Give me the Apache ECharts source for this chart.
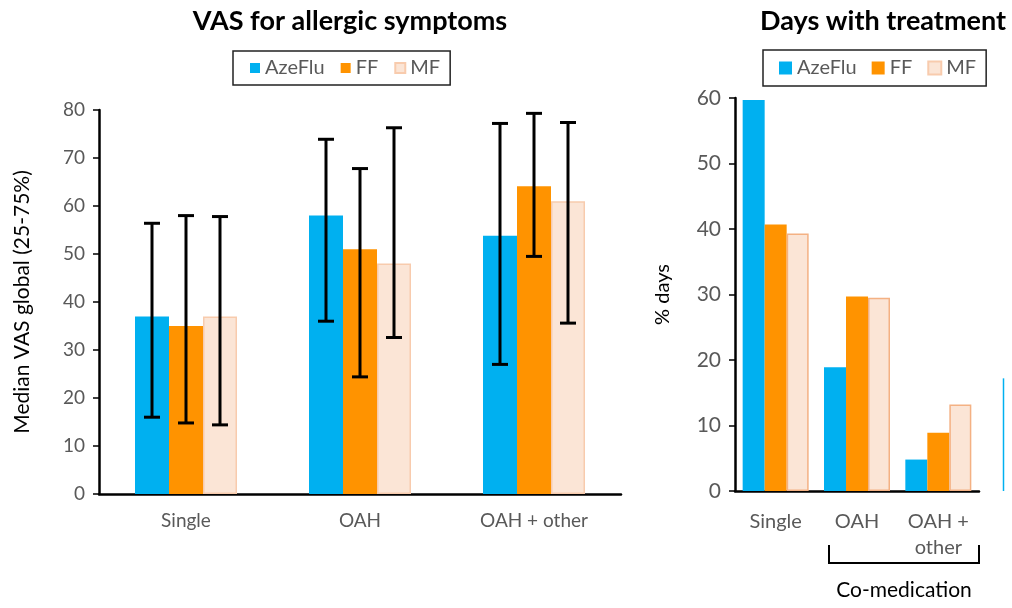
<!DOCTYPE html>
<html>
<head>
<meta charset="utf-8">
<script src="https://cdn.jsdelivr.net/npm/echarts@6/dist/echarts.min.js"></script>
<style>
html,body{margin:0;padding:0;background:#fff;}
#chart{width:1012px;height:608px;}
</style>
</head>
<body>
<div id="chart"></div>
<script>
// ---- Data ----
const seriesNames = ['AzeFlu', 'FF', 'MF'];

// Left chart: VAS for allergic symptoms (median with 25-75% range)
const vasCategories = ['Single', 'OAH', 'OAH + other'];
const vasAzeFlu = [37, 58, 53.8];
const vasFF = [35, 51, 64.1];
const vasMF = [37, 48, 61];
const vasAzeFluIQR = [[16, 56.4], [36, 73.9], [27, 77.2]];
const vasFFIQR = [[14.8, 58], [24.4, 67.8], [49.5, 79.3]];
const vasMFIQR = [[14.4, 57.8], [32.6, 76.3], [35.6, 77.4]];
const vasTicks = { min: 0, max: 80, interval: 10 };

// Right chart: Days with treatment (% days)
const daysCategories = ['Single', 'OAH', 'OAH +\nother'];
const daysAzeFlu = [59.7, 18.9, 4.8];
const daysFF = [40.7, 29.7, 8.9];
const daysMF = [39.3, 29.5, 13.2];
const daysTicks = { min: 0, max: 60, interval: 10 };

// Cropped third panel at right edge (only a sliver visible)
const partialCategories = [''];
const partialAzeFlu = [17.2];

// ---- Styles ----
const BLUE = '#00B0F0', ORANGE = '#FF9300', PEACH = '#FBE5D6';
const FONT = 'Lato, "Noto Sans", sans-serif';
const GRAY = '#595959';

const chart = echarts.init(document.getElementById('chart'));

const LEFT_BAR_W = 34;
function errorSeries(name, iqr, idx) {
  return {
    type: 'custom',
    name: name + ' IQR',
    xAxisIndex: 0, yAxisIndex: 0,
    z: 5,
    silent: true,
    data: iqr.map((r, i) => [i, r[0], r[1]]),
    encode: { x: 0, y: [1, 2] },
    renderItem: function (params, api) {
      const c = api.value(0);
      const lo = api.coord([c, api.value(1)]);
      const hi = api.coord([c, api.value(2)]);
      const x = lo[0] + (idx - 1) * LEFT_BAR_W;
      const cap = 8;
      const st = { stroke: '#000', lineWidth: 3 };
      return {
        type: 'group',
        children: [
          { type: 'line', shape: { x1: x, y1: lo[1], x2: x, y2: hi[1] }, style: st },
          { type: 'line', shape: { x1: x - cap, y1: lo[1], x2: x + cap, y2: lo[1] }, style: st },
          { type: 'line', shape: { x1: x - cap, y1: hi[1], x2: x + cap, y2: hi[1] }, style: st }
        ]
      };
    }
  };
}

const axisLine = { show: true, lineStyle: { color: '#000', width: 2.5 } };

const option = {
  animation: false,
  backgroundColor: '#fff',
  textStyle: { fontFamily: FONT },
  title: [
    { text: 'VAS for allergic symptoms', left: 345, top: 3, textAlign: 'center',
      textStyle: { fontFamily: FONT, fontWeight: 'bold', fontSize: 27, color: '#000' } },
    { text: 'Days with treatment', left: 878, top: 3, textAlign: 'center',
      textStyle: { fontFamily: FONT, fontWeight: 'bold', fontSize: 27, color: '#000' } }
  ],
  legend: [
    { data: seriesNames, left: 233, top: 51, orient: 'horizontal',
      borderColor: '#222', borderWidth: 1.5, padding: [7, 10, 7, 17], itemGap: 16,
      itemWidth: 10, itemHeight: 10, icon: 'rect',
      textStyle: { color: GRAY, fontSize: 20, fontFamily: FONT } },
    { data: seriesNames, left: 763, top: 50, orient: 'horizontal',
      borderColor: '#222', borderWidth: 1.5, padding: [8, 10, 8, 16], itemGap: 15,
      itemWidth: 13, itemHeight: 13, icon: 'rect',
      textStyle: { color: GRAY, fontSize: 20, fontFamily: FONT } }
  ],
  grid: [
    { left: 99, top: 110, width: 522, height: 384 },
    { left: 735, top: 98, width: 244, height: 393 },
    { left: 1000, top: 98, width: 7, height: 393 }
  ],
  xAxis: [
    { type: 'category', gridIndex: 0, data: vasCategories, axisLine: axisLine,
      axisTick: { show: false },
      axisLabel: { color: GRAY, fontSize: 19, margin: 17, fontFamily: FONT } },
    { type: 'category', gridIndex: 1, data: daysCategories, axisLine: axisLine,
      axisTick: { show: false },
      axisLabel: { color: GRAY, fontSize: 20, margin: 18, lineHeight: 26, fontFamily: FONT } },
    { type: 'category', gridIndex: 2, data: partialCategories, axisLine: { show: false },
      axisTick: { show: false }, axisLabel: { show: false } }
  ],
  yAxis: [
    { type: 'value', gridIndex: 0, min: vasTicks.min, max: vasTicks.max, interval: vasTicks.interval,
      name: 'Median VAS global (25-75%)', nameLocation: 'middle', nameGap: 66,
      nameTextStyle: { color: '#000', fontSize: 21, fontFamily: FONT },
      axisLine: axisLine, axisTick: { show: true, length: 6, lineStyle: { color: '#000', width: 1.5 } },
      splitLine: { show: false },
      axisLabel: { color: GRAY, fontSize: 19, margin: 14, fontFamily: FONT } },
    { type: 'value', gridIndex: 1, min: daysTicks.min, max: daysTicks.max, interval: daysTicks.interval,
      name: '% days', nameLocation: 'middle', nameGap: 62,
      nameTextStyle: { color: '#000', fontSize: 20, fontFamily: FONT },
      axisLine: axisLine, axisTick: { show: true, length: 6, lineStyle: { color: '#000', width: 1.5 } },
      splitLine: { show: false },
      axisLabel: { color: GRAY, fontSize: 21, margin: 14, fontFamily: FONT } },
    { type: 'value', gridIndex: 2, min: daysTicks.min, max: daysTicks.max, show: false, splitLine: { show: false } }
  ],
  series: [
    { type: 'bar', name: 'AzeFlu', xAxisIndex: 0, yAxisIndex: 0, data: vasAzeFlu, barWidth: LEFT_BAR_W, barGap: '0%',
      itemStyle: { color: BLUE } },
    { type: 'bar', name: 'FF', xAxisIndex: 0, yAxisIndex: 0, data: vasFF, barWidth: LEFT_BAR_W, barGap: '0%',
      itemStyle: { color: ORANGE } },
    { type: 'bar', name: 'MF', xAxisIndex: 0, yAxisIndex: 0, data: vasMF, barWidth: LEFT_BAR_W, barGap: '0%',
      itemStyle: { color: PEACH, borderColor: '#F8CBAD', borderWidth: 1.5 } },
    errorSeries('AzeFlu', vasAzeFluIQR, 0),
    errorSeries('FF', vasFFIQR, 1),
    errorSeries('MF', vasMFIQR, 2),
    { type: 'bar', name: 'AzeFlu', xAxisIndex: 1, yAxisIndex: 1, data: daysAzeFlu, barWidth: 22, barGap: '0%',
      itemStyle: { color: BLUE } },
    { type: 'bar', name: 'FF', xAxisIndex: 1, yAxisIndex: 1, data: daysFF, barWidth: 22, barGap: '0%',
      itemStyle: { color: ORANGE } },
    { type: 'bar', name: 'MF', xAxisIndex: 1, yAxisIndex: 1, data: daysMF, barWidth: 22, barGap: '0%',
      itemStyle: { color: PEACH, borderColor: '#F4B183', borderWidth: 1.5 } },
    { type: 'bar', name: 'AzeFlu', xAxisIndex: 2, yAxisIndex: 2, data: partialAzeFlu, barWidth: 1.5,
      itemStyle: { color: BLUE } }
  ],
  graphic: [
    { type: 'polyline', shape: { points: [[829, 545], [829, 563], [979, 563], [979, 545]] },
      style: { stroke: '#000', lineWidth: 2, fill: null } },
    { type: 'text', x: 904, y: 590,
      style: { text: 'Co-medication', fill: '#000', font: '21px ' + FONT, textAlign: 'center', textVerticalAlign: 'middle' } }
  ]
};

chart.setOption(option);
</script>
</body>
</html>
